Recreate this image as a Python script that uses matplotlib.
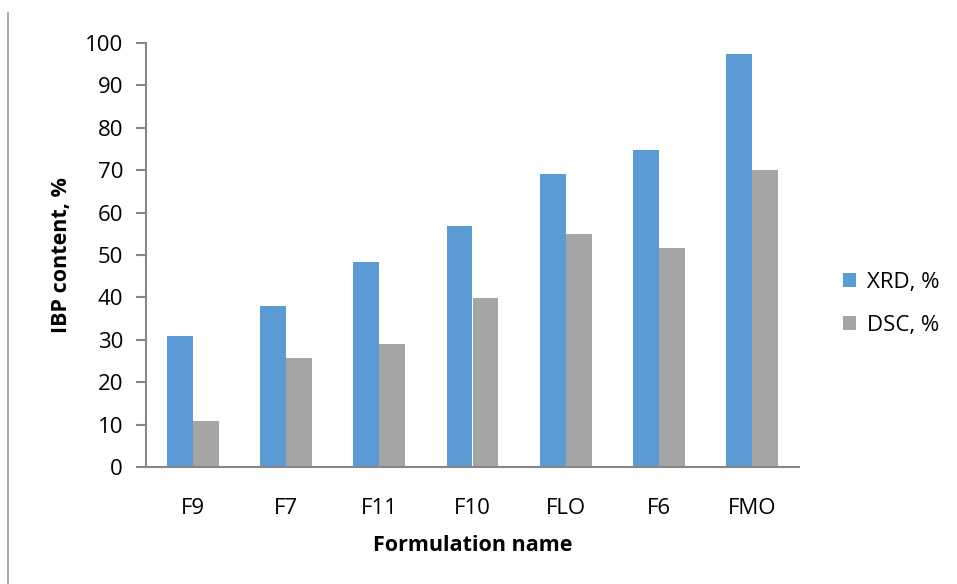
import matplotlib
matplotlib.use("Agg")
import matplotlib.pyplot as plt
import numpy as np
from matplotlib.lines import Line2D

categories = ["F9", "F7", "F11", "F10", "FLO", "F6", "FMO"]
xrd = [30.8, 37.9, 48.3, 56.8, 69.1, 74.8, 97.5]
dsc = [10.9, 25.6, 28.9, 39.8, 54.9, 51.6, 70.0]
yticks = [0, 10, 20, 30, 40, 50, 60, 70, 80, 90, 100]

plt.rcParams["font.family"] = ["Open Sans", "DejaVu Sans"]

W, H = 957, 584
fig = plt.figure(figsize=(W / 100, H / 100), dpi=100)
ax = fig.add_axes([146 / W, 1 - 467 / H, (799 - 146) / W, (467 - 43) / H])

x = np.arange(len(categories))
bw = 0.278
ax.bar(x - bw / 2, xrd, bw, color="#5B9BD5", label="XRD, %")
ax.bar(x + bw / 2, dsc, bw, color="#A5A5A5", label="DSC, %")

ax.set_xlim(-0.5, len(categories) - 0.5)
ax.set_ylim(0, 100)
ax.set_yticks(yticks)
ax.set_xticks(x)
ax.set_xticklabels(categories)

axis_col = "#868686"
for s in ["top", "right"]:
    ax.spines[s].set_visible(False)
for s in ["left", "bottom"]:
    ax.spines[s].set_color(axis_col)
    ax.spines[s].set_linewidth(1.5)
fs = 16
ax.tick_params(axis="y", length=7, width=1.5, color=axis_col, labelsize=fs, pad=9.5)
ax.tick_params(axis="x", length=0, labelsize=fs, pad=22)

ax.set_xlabel("Formulation name", fontsize=15.5, fontweight="bold", labelpad=12)
ax.set_ylabel("IBP content, %", fontsize=15.5, fontweight="bold", labelpad=9)

fig.legend(loc="center left", bbox_to_anchor=(823 / W, 1 - 304 / H), frameon=False,
           fontsize=fs, handlelength=0.6, handleheight=0.6, labelspacing=1.0,
           handletextpad=0.5)

# thin page border on the left
fig.add_artist(Line2D([8 / W, 8 / W], [0, 1 - 13 / H], color="#999999", lw=1.2,
                      transform=fig.transFigure))

fig.savefig("out.png", dpi=100, facecolor="white")
